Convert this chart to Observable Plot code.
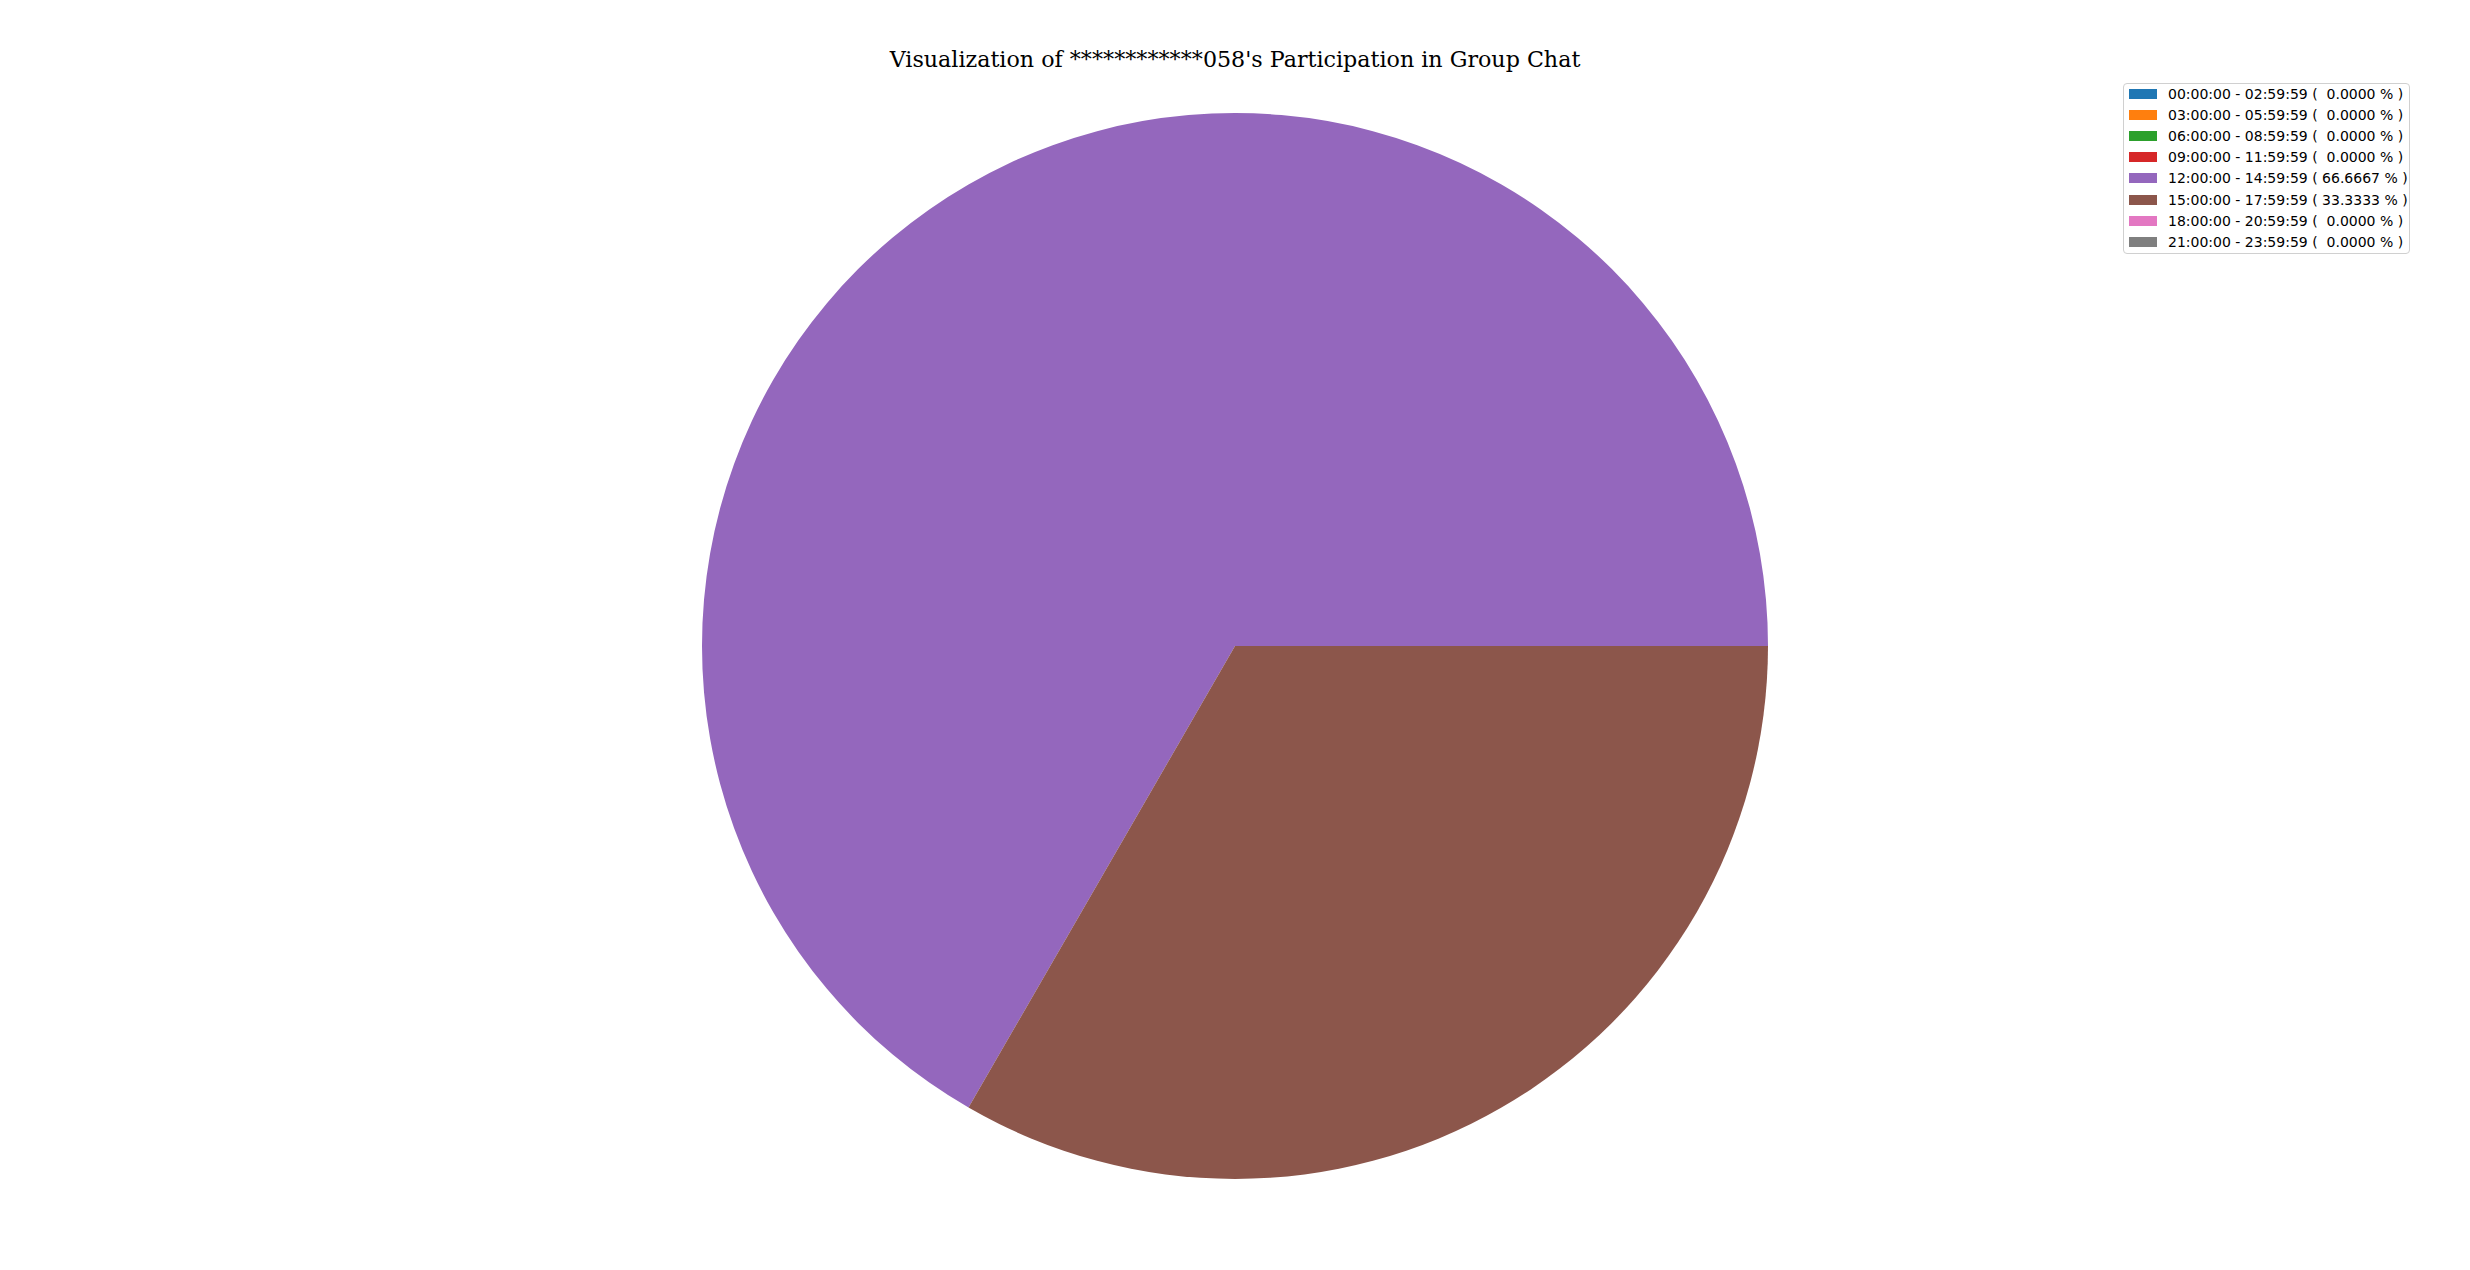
<!DOCTYPE html>
<html>
<head>
<meta charset="utf-8">
<script src="https://cdn.jsdelivr.net/npm/d3@7"></script>
<script src="https://cdn.jsdelivr.net/npm/@observablehq/plot@0.6"></script>
<style>
  html, body { margin: 0; padding: 0; background: #fff; }
  #wrap { position: relative; width: 2470px; height: 1270px; overflow: hidden; }
  #title { position: absolute; left: 0; top: 0; width: 2470px; height: 100px;
    font-family: "DejaVu Serif", serif; font-size: 22.2px; color: #000; }
  #title span { position: absolute; left: 1235px; top: 67px; transform: translate(-50%, -80%); white-space: pre; }
  #chart { position: absolute; left: 0; top: 100px; }
  #legend { position: absolute; left: 2123px; top: 83px; width: 285px; height: 169px;
    border: 1px solid #d0d0d0; border-radius: 4px; background: rgba(255,255,255,0.8);
    font-family: "DejaVu Sans", sans-serif; font-size: 14px; color: #000; }
  .row { position: absolute; left: 0; height: 20px; white-space: pre; }
  .sw { position: absolute; left: 5px; width: 28px; height: 10px; top: 5px; }
  .lab { position: absolute; left: 44px; top: 0; line-height: 20px; }
</style>
</head>
<body>
<div id="wrap">
  <div id="title"><span>Visualization of ************058's Participation in Group Chat</span></div>
  <div id="chart"></div>
  <div id="legend"></div>
</div>
<script>
const categories = [
  "00:00:00 - 02:59:59", "03:00:00 - 05:59:59", "06:00:00 - 08:59:59", "09:00:00 - 11:59:59",
  "12:00:00 - 14:59:59", "15:00:00 - 17:59:59", "18:00:00 - 20:59:59", "21:00:00 - 23:59:59"
];
const percents = [0, 0, 0, 0, 66.6667, 33.3333, 0, 0];
const legendLabels = categories.map((c, i) => `${c} ( ${percents[i].toFixed(4).padStart(7, " ")} % )`);

const slices = categories.map((c, i) => ({label: c, pct: percents[i]}));

// matplotlib: start at 3 o'clock, counter-clockwise
const pieGen = d3.pie().sort(null).value(d => d.pct)
  .startAngle(Math.PI / 2).endAngle(Math.PI / 2 - 2 * Math.PI);
const arcsData = pieGen(slices);

const cx = 1235, cy = 646 - 100, R = 533;

const plot = Plot.plot({
  width: 2470,
  height: 1170,
  margin: 0,
  x: {domain: [-1, 1], range: [cx - R, cx + R], axis: null},
  y: {domain: [-1, 1], range: [cy + R, cy - R], axis: null},
  color: {type: "ordinal", domain: categories, range: d3.schemeCategory10.slice(0, 8)},
  marks: [
    Plot.dot(arcsData, {
      x: () => 0,
      y: () => 0,
      fill: d => d.data.label,
      render(index, scales, values, dimensions, context) {
        const x0 = scales.x(0), y0 = scales.y(0);
        const r = scales.x(1) - scales.x(0);
        const arc = d3.arc().innerRadius(0).outerRadius(r);
        const g = d3.create("svg:g").attr("transform", `translate(${x0},${y0})`);
        for (const i of index) {
          const a = arcsData[i];
          if (a.data.pct <= 0) continue;
          g.append("path").attr("d", arc(a)).attr("fill", values.fill[i]);
        }
        return g.node();
      }
    })
  ]
});
document.getElementById("chart").appendChild(plot);

const colorScale = plot.scale("color");
const colorOf = (c) => colorScale.range[colorScale.domain.indexOf(c)];
const legend = document.getElementById("legend");
categories.forEach((c, i) => {
  const row = document.createElement("div");
  row.className = "row";
  row.style.top = (0 + i * 21.1) + "px";
  const sw = document.createElement("div");
  sw.className = "sw";
  sw.style.background = colorOf(c);
  const lab = document.createElement("div");
  lab.className = "lab";
  lab.textContent = legendLabels[i];
  row.appendChild(sw);
  row.appendChild(lab);
  legend.appendChild(row);
});
</script>
</body>
</html>
